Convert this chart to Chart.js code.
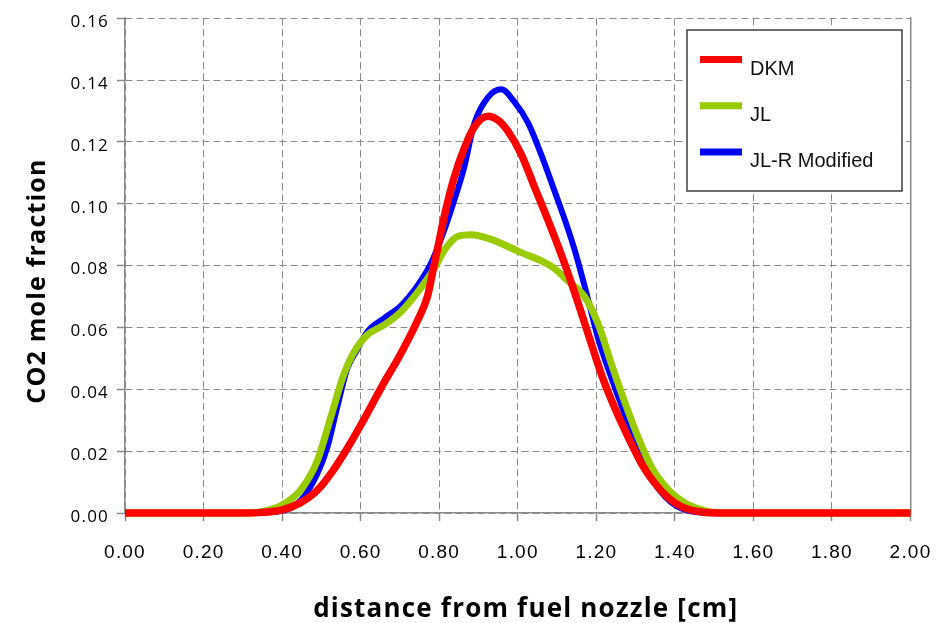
<!DOCTYPE html>
<html>
<head>
<meta charset="utf-8">
<script src="https://cdn.jsdelivr.net/npm/chart.js@4/dist/chart.umd.min.js"></script>
<style>
html,body{margin:0;padding:0;background:#fff;}
#wrap{width:949px;height:623px;position:relative;}
</style>
</head>
<body>
<div id="wrap"><canvas id="c" width="949" height="623"></canvas></div>
<script>
// ---- data ----
const seriesNames = ['DKM', 'JL', 'JL-R Modified'];
const seriesColors = ['#ff0000', '#99cc00', '#0000ff'];

const dkmX = [0, 0.30, 0.35, 0.40, 0.445, 0.49, 0.53, 0.573, 0.616, 0.657, 0.70, 0.744, 0.77, 0.785, 0.80, 0.813, 0.838, 0.864, 0.889, 0.924, 0.95, 0.975, 1.009, 1.042, 1.077, 1.111, 1.145, 1.18, 1.213, 1.247, 1.282, 1.315, 1.349, 1.384, 1.418, 1.469, 1.52, 2.0];
const dkmY = [0, 0, 0.0002, 0.001, 0.0032, 0.0074, 0.0138, 0.0224, 0.032, 0.0416, 0.051, 0.062, 0.070, 0.079, 0.088, 0.096, 0.1085, 0.118, 0.1248, 0.1283, 0.127, 0.1235, 0.116, 0.1056, 0.0947, 0.0835, 0.0712, 0.0576, 0.0448, 0.034, 0.0243, 0.016, 0.0096, 0.0048, 0.002, 0.0003, 0, 0];

const jlX = [0, 0.30, 0.35, 0.40, 0.447, 0.49, 0.524, 0.557, 0.583, 0.617, 0.66, 0.702, 0.745, 0.787, 0.813, 0.848, 0.881, 0.932, 1.009, 1.06, 1.094, 1.128, 1.17, 1.205, 1.239, 1.272, 1.307, 1.341, 1.384, 1.426, 1.469, 1.51, 2.0];
const jlY = [0, 0, 0.0005, 0.0026, 0.0074, 0.017, 0.031, 0.0448, 0.052, 0.0576, 0.0608, 0.065, 0.0714, 0.079, 0.085, 0.0895, 0.09, 0.0885, 0.0842, 0.0815, 0.079, 0.075, 0.0700, 0.061, 0.048, 0.036, 0.0243, 0.0147, 0.0074, 0.0032, 0.001, 0, 0];

const jlrX = [0, 0.30, 0.35, 0.40, 0.447, 0.49, 0.515, 0.54, 0.566, 0.592, 0.617, 0.66, 0.702, 0.745, 0.78, 0.813, 0.838, 0.864, 0.889, 0.924, 0.958, 0.991, 1.026, 1.06, 1.094, 1.128, 1.145, 1.17, 1.205, 1.239, 1.272, 1.30, 1.33, 1.36, 1.39, 1.42, 1.46, 1.50, 2.0];
const jlrY = [0, 0, 0.0002, 0.0007, 0.004, 0.0128, 0.0211, 0.034, 0.0467, 0.053, 0.0586, 0.063, 0.067, 0.0736, 0.081, 0.0915, 0.101, 0.112, 0.1258, 0.1344, 0.137, 0.133, 0.1262, 0.1158, 0.1040, 0.0918, 0.0850, 0.0735, 0.0563, 0.0435, 0.032, 0.022, 0.0135, 0.0075, 0.0035, 0.0013, 0.0002, 0, 0];

const xMin = 0, xMax = 2, xStep = 0.2;
const yMin = 0, yMax = 0.16, yStep = 0.02;
const xTitle = 'distance from fuel nozzle [cm]';
const yTitle = 'CO2 mole fraction';

// ---- chart ----
const toPts = (xs, ys) => xs.map((x, i) => ({x: x, y: ys[i]}));
const widths = [7.5, 7, 6];
const allX = [dkmX, jlX, jlrX];
const allY = [dkmY, jlY, jlrY];

const datasets = seriesNames.map((name, i) => ({
  label: name,
  data: toPts(allX[i], allY[i]),
  borderColor: seriesColors[i],
  backgroundColor: seriesColors[i],
  borderWidth: widths[i],
  pointRadius: 0,
  pointHoverRadius: 0,
  fill: false,
  clip: 10,
  cubicInterpolationMode: 'monotone',
  borderJoinStyle: 'round',
  borderCapStyle: 'butt'
}));

const spacingPlugin = {
  id: 'spacing',
  beforeDraw(chart) { chart.ctx.letterSpacing = '1.2px'; }
};

const boxLegend = {
  id: 'boxLegend',
  afterDraw(chart) {
    const ctx = chart.ctx;
    ctx.save();
    ctx.letterSpacing = '0px';
    const bx = 687, by = 30, bw = 215, bh = 161;
    ctx.fillStyle = '#ffffff';
    ctx.fillRect(bx, by, bw, bh);
    ctx.strokeStyle = '#404040';
    ctx.lineWidth = 1.5;
    ctx.strokeRect(bx, by, bw, bh);
    chart.data.datasets.forEach((ds, i) => {
      const ly = 59.5 + i * 46.2;
      ctx.strokeStyle = ds.borderColor;
      ctx.lineWidth = 7;
      ctx.lineCap = 'butt';
      ctx.beginPath();
      ctx.moveTo(700, ly);
      ctx.lineTo(742, ly);
      ctx.stroke();
      ctx.fillStyle = '#111';
      ctx.font = '20px "Liberation Sans", Arial, sans-serif';
      ctx.textAlign = 'left';
      ctx.textBaseline = 'alphabetic';
      ctx.fillText(ds.label, 750, ly + 15);
    });
    ctx.restore();
  }
};

const gridColor = '#8a8a8a';

new Chart(document.getElementById('c'), {
  type: 'line',
  data: { datasets: datasets },
  options: {
    responsive: false,
    animation: false,
    devicePixelRatio: 1,
    layout: { padding: { top: 11, right: 38, bottom: 0, left: 0 } },
    plugins: { legend: { display: false }, tooltip: { enabled: false } },
    scales: {
      x: {
        type: 'linear', min: xMin, max: xMax,
        afterFit(s) { s.height = 110; },
        ticks: {
          stepSize: xStep, autoSkip: false, maxRotation: 0, z: 1,
          callback: v => v.toFixed(2),
          font: { family: '"Liberation Sans", Arial, sans-serif', size: 19 },
          color: '#000', padding: 20
        },
        grid: { color: gridColor, lineWidth: 1, tickLength: 8, tickColor: gridColor, tickWidth: 1.5 },
        border: { display: true, color: gridColor, width: 1.5, dash: [7, 4] },
        title: {
          display: true, text: '  ' + xTitle, color: '#000',
          font: { family: '"Open Sans", sans-serif', size: 26, weight: 'bold', lineHeight: 1 },
          padding: { top: 0, bottom: 0 }
        }
      },
      y: {
        type: 'linear', min: yMin, max: yMax,
        afterFit(s) { s.width = 125; },
        ticks: {
          stepSize: yStep, z: 1, labelOffset: 4,
          callback: v => v.toFixed(2),
          font: { family: '"Open Sans", sans-serif', size: 17 },
          color: '#000', padding: 8
        },
        grid: { color: gridColor, lineWidth: 1, tickLength: 8, tickColor: gridColor, tickWidth: 1.5 },
        border: { display: true, color: gridColor, width: 1.5, dash: [7, 4] },
        title: {
          display: true, text: yTitle + '    ', color: '#000',
          font: { family: '"Open Sans", sans-serif', size: 25, weight: 'bold', lineHeight: 1 },
          padding: { top: 25, bottom: 0 }
        }
      },
      y2: {
        type: 'linear', position: 'right', min: yMin, max: yMax,
        afterFit(s) { s.width = 0; },
        ticks: { display: false },
        grid: { drawOnChartArea: false, drawTicks: false },
        border: { display: true, color: gridColor, width: 1.5 }
      }
    }
  },
  plugins: [spacingPlugin, boxLegend]
});
</script>
</body>
</html>
